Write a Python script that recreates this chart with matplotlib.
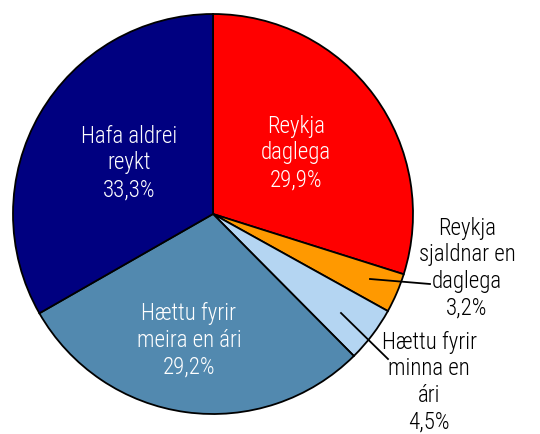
import matplotlib
matplotlib.use("Agg")
import matplotlib.pyplot as plt

# data
labels = ["Reykja\ndaglega", "Reykja\nsjaldnar en\ndaglega", "Hættu fyrir\nminna en\nári",
          "Hættu fyrir\nmeira en ári", "Hafa aldrei\nreykt"]
values = [29.9, 3.2, 4.5, 29.2, 33.3]
colors = ["#FF0000", "#FF9900", "#B4D5F2", "#5289AF", "#000080"]

plt.rcParams['font.family'] = ['Roboto Condensed', 'DejaVu Sans']

fig = plt.figure(figsize=(5.4, 4.34), dpi=100)
ax = fig.add_axes([0, 0, 1, 1])
wedges, _ = ax.pie(values, colors=colors, startangle=90, counterclock=False,
                   radius=1, wedgeprops=dict(edgecolor='black', linewidth=1.3))

# pixel layout helper: centre at (213, 214), radius 200 px
cx, cy, r = 213, 214, 200
def px(x, y):
    return ((x - cx) / r, (cy - y) / r)

ax.set_xlim(-cx / r, (540 - cx) / r)
ax.set_ylim(-(434 - cy) / r, cy / r)
ax.set_aspect('equal')
ax.axis('off')

def pct(v):
    return f"{v:.1f}%".replace('.', ',')

fs = 16.5
# labels inside the big slices
inside = {0: (296, 153), 3: (189, 340), 4: (129, 163)}
for i, (x, y) in inside.items():
    ax.text(*px(x, y), labels[i] + "\n" + pct(values[i]), ha='center', va='center',
            color='white', fontsize=fs, linespacing=1.2, fontweight=300)

# labels outside the small slices with leader lines
outside = {1: ((370, 279), (467, 268), (430, 284)),
           2: ((341, 313), (429, 382), (388, 359))}
for i, (start, tpos, end) in outside.items():
    ax.text(*px(*tpos), labels[i] + "\n" + pct(values[i]), ha='center', va='center',
            color='black', fontsize=fs, linespacing=1.2, fontweight=300)
    x0, y0 = px(*start)
    x1, y1 = px(*end)
    ax.plot([x0, x1], [y0, y1], color='black', lw=1.3)

fig.savefig("out.png", dpi=100)
